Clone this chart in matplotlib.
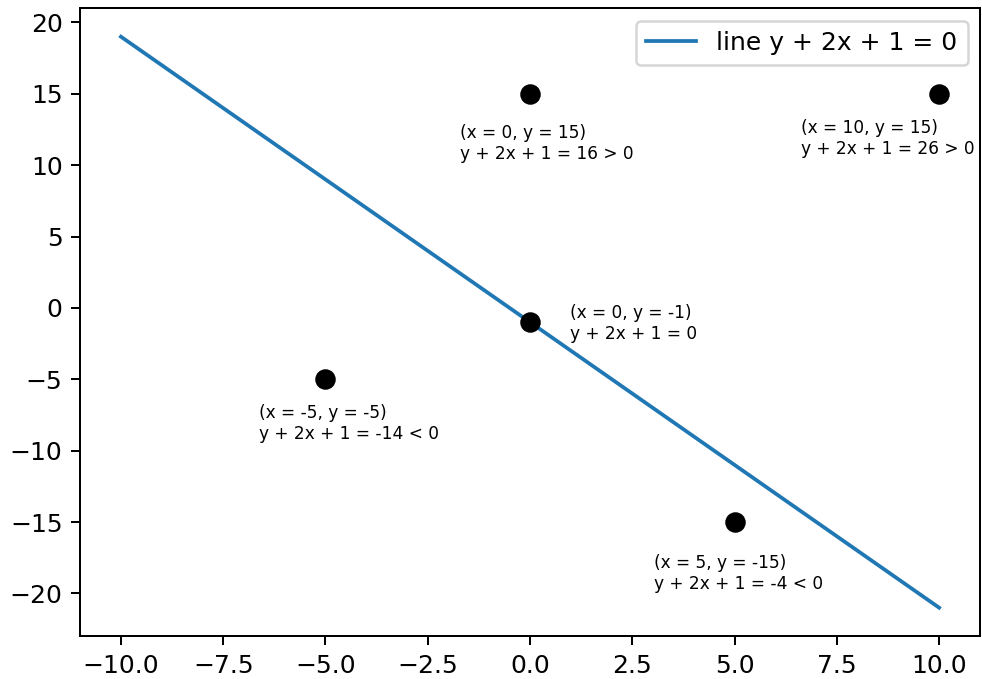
import matplotlib.pyplot as plt
import numpy as np

# line y + 2x + 1 = 0  ->  y = -2x - 1
line_x = [-10, 10]
line_y = [-2 * v - 1 for v in line_x]

# test points and the value printed under each one
pts_x = [0, 10, 0, -5, 5]
pts_y = [15, 15, -1, -5, -15]
pts_val = [16, 26, 0, -14, -4]

# where each caption goes (data coords, top-left corner)
label_x = [-1.72, 6.63, 0.97, -6.63, 3.03]
label_y = [12.85, 13.25, 0.25, -6.75, -17.25]


def sign_text(v):
    if v > 0:
        return "{} > 0".format(v)
    if v < 0:
        return "{} < 0".format(v)
    return "0"


fig = plt.figure(figsize=(982 / 180, 679 / 180), dpi=180)
ax = fig.add_axes([0.0815, 0.063, 0.9165, 0.925])

ax.plot(line_x, line_y, label="line y + 2x + 1 = 0")
ax.plot(pts_x, pts_y, 'ko', markersize=7.2, ls='none')

for i in range(len(pts_x)):
    txt = "(x = {}, y = {})\ny + 2x + 1 = {}".format(pts_x[i], pts_y[i], sign_text(pts_val[i]))
    ax.text(label_x[i], label_y[i], txt, fontsize=6.8, ha='left', va='top')

ax.set_xlim(-11, 11)
ax.set_ylim(-23, 21)
ax.set_xticks(np.arange(-10, 10.1, 2.5))
ax.set_yticks(np.arange(-20, 21, 5))

ax.legend(loc='upper right')

fig.savefig("out.png", dpi=180)
